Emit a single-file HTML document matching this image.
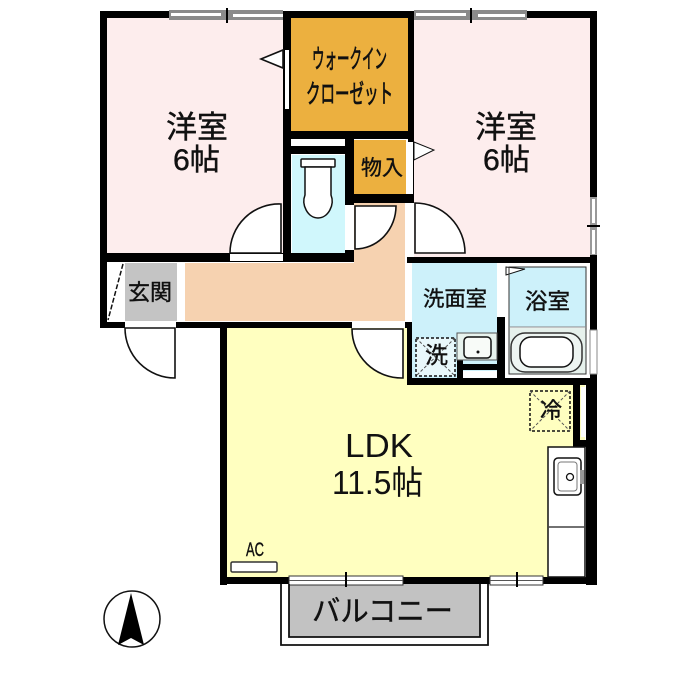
<!DOCTYPE html>
<html><head><meta charset="utf-8"><style>
html,body{margin:0;padding:0;background:#fff}
svg{display:block}
text{font-family:"Liberation Sans","Noto Sans CJK JP",sans-serif;fill:#111}
.b{stroke:#111;stroke-width:.4}
</style></head><body>
<svg width="700" height="700" viewBox="0 0 700 700" xmlns="http://www.w3.org/2000/svg">
<rect width="700" height="700" fill="#fff"/>
<!-- floors -->
<rect x="107" y="18" width="176" height="235" fill="#fdeded"/>
<rect x="414" y="18" width="176" height="239" fill="#fdeded"/>
<rect x="291" y="18" width="117" height="113" fill="#ecb03f"/>
<rect x="354" y="140" width="52" height="54" fill="#ecb03f"/>
<rect x="292" y="155" width="53" height="98" fill="#d0f7fc"/>
<rect x="185" y="263" width="220" height="58" fill="#f6d2b0"/>
<rect x="354" y="203" width="51" height="60" fill="#f6d2b0"/>
<rect x="125" y="263" width="52" height="58" fill="#c4c4c4"/>
<path d="M227 328H407V385H585V577H227Z" fill="#ffffc0"/>
<rect x="412" y="263" width="85" height="115" fill="#cdf1fa"/>
<rect x="505" y="263" width="85" height="115" fill="#fff"/>
<rect x="509" y="267" width="77" height="60" fill="#cdf1fa"/>
<rect x="509" y="328" width="77" height="46" fill="#e6f1ec"/>
<rect x="289" y="584" width="191" height="53" fill="#c2c2c2"/>
<!-- walls -->
<g fill="#000">
<rect x="100" y="11" width="497" height="7"/>
<rect x="100" y="11" width="7" height="317"/>
<rect x="590" y="11" width="7" height="574"/>
<rect x="283" y="11" width="8" height="251"/>
<rect x="408" y="11" width="6" height="192"/>
<rect x="291" y="131" width="123" height="8"/>
<rect x="291" y="146" width="63" height="8"/>
<rect x="345" y="131" width="9" height="131"/>
<rect x="100" y="253" width="191" height="9"/>
<rect x="283" y="253" width="71" height="9"/>
<rect x="345" y="194" width="69" height="9"/>
<rect x="407" y="257" width="190" height="6"/>
<rect x="100" y="322" width="310" height="6"/>
<rect x="220" y="322" width="7" height="263"/>
<rect x="407" y="322" width="5" height="63"/>
<rect x="407" y="378" width="190" height="7"/>
<rect x="497" y="317" width="8" height="68"/>
<rect x="220" y="577" width="377" height="7"/>
<rect x="573" y="385" width="7" height="60"/>
<rect x="573" y="440" width="24" height="7"/>
<rect x="586" y="385" width="11" height="200"/>
<rect x="457" y="364" width="40" height="6"/>
<rect x="457" y="360" width="6" height="18"/>
</g>
<!-- white strips / openings -->
<g fill="#fff">
<rect x="107" y="263" width="18" height="58"/>
<rect x="177" y="263" width="8" height="58"/>
<rect x="292" y="139" width="53" height="7"/>
<rect x="285" y="50" width="4" height="59"/>
<rect x="408" y="142" width="5" height="52"/>
<rect x="408" y="203" width="6" height="54"/>
<rect x="345" y="205" width="9" height="45"/>
<rect x="230" y="254" width="53" height="7"/>
<rect x="125" y="322" width="51" height="6"/>
<rect x="352" y="322" width="53" height="6"/>
<rect x="498" y="263" width="6" height="54"/>
<rect x="463" y="371" width="34" height="7"/>
<rect x="581" y="387" width="5" height="50"/>
</g>
<!-- top windows -->
<g>
<rect x="169" y="10" width="114" height="10" fill="#8a8a8a"/>
<rect x="171" y="13" width="50" height="3" fill="#fff"/>
<rect x="233" y="14" width="50" height="3" fill="#fff"/>
<rect x="226" y="8" width="2" height="15" fill="#000"/>
<rect x="414" y="10" width="113" height="10" fill="#8a8a8a"/>
<rect x="416" y="13" width="50" height="3" fill="#fff"/>
<rect x="478" y="14" width="47" height="3" fill="#fff"/>
<rect x="470" y="8" width="2" height="15" fill="#000"/>
<rect x="590" y="197" width="7" height="58" fill="#999"/>
<rect x="592" y="199" width="3" height="24" fill="#fff"/>
<rect x="592" y="230" width="3" height="24" fill="#fff"/>
<rect x="587" y="225" width="13" height="2" fill="#000"/>
<rect x="590" y="330" width="7" height="44" fill="#fff" stroke="#888"/>
<!-- bottom windows -->
<rect x="289" y="576" width="114" height="9" fill="#fff" stroke="#333"/>
<rect x="289" y="580" width="114" height="1" fill="#555"/>
<rect x="345" y="572" width="2" height="15" fill="#000"/>
<rect x="490" y="576" width="53" height="9" fill="#fff" stroke="#333"/>
<rect x="490" y="580" width="53" height="1" fill="#555"/>
<rect x="516" y="572" width="2" height="15" fill="#000"/>
</g>
<!-- doors -->
<g fill="#fff" stroke="#111" stroke-width="1.6">
<path d="M281 204V253H230A49 49 0 0 1 281 204Z"/>
<path d="M355 206H396A41 43 0 0 1 355 249Z"/>
<path d="M415 203A50 50 0 0 1 465 253H415Z"/>
<path d="M403 329V378A50 49 0 0 1 352 329Z"/>
<path d="M175 328V378A50 50 0 0 1 125 328Z"/>
<path d="M261 59L283 50V68Z"/>
<path d="M414 142L434 150L414 160Z" stroke-width="1"/>
<path d="M506 267L525 269L506 275Z" stroke-width="1"/>
</g>
<path d="M123 264L108 320" stroke="#111" stroke-width="1.5" stroke-dasharray="5 2" fill="none"/>
<path d="M509 267H586V374H509Z" fill="none" stroke="#333" stroke-width="1"/>
<path d="M509 327H586" stroke="#888" stroke-width="1"/>
<!-- toilet -->
<g fill="#fff" stroke="#111" stroke-width="1.5">
<rect x="301" y="159" width="34" height="8" rx="1"/>
<path d="M305 167H331V195C335 205 328 218 318 218C308 218 301 205 305 195Z"/>
</g>
<!-- basin -->
<rect x="457" y="333" width="40" height="27" fill="#e8f3ee" stroke="#555"/>
<rect x="464" y="337" width="27" height="21" rx="4" fill="#f8fbf8" stroke="#111" stroke-width="1.5"/>
<circle cx="478" cy="352" r="1.5" fill="#111"/>
<!-- washer pan -->
<rect x="416" y="338" width="39" height="38" fill="#e8f8fb" stroke="#111" stroke-width="1.5" stroke-dasharray="3 2"/>
<path d="M416 338L455 376M455 338L416 376" stroke="#555" stroke-width="1" stroke-dasharray="3 2"/>
<!-- tub -->
<rect x="511" y="333" width="71" height="39" rx="14" fill="#eef5f2" stroke="#333" stroke-width="1.5"/>
<rect x="520" y="337" width="53" height="30" rx="11" fill="#fff" stroke="#111" stroke-width="1.5"/>
<!-- fridge -->
<rect x="530" y="391" width="40" height="40" fill="none" stroke="#111" stroke-width="1.5" stroke-dasharray="3 2"/>
<path d="M530 391L570 431M570 391L530 431" stroke="#555" stroke-width="1" stroke-dasharray="3 2"/>
<!-- kitchen -->
<rect x="548" y="447" width="37" height="130" fill="#fff" stroke="#111" stroke-width="1.5"/>
<path d="M548 527H585" stroke="#444" stroke-width="1.5"/>
<rect x="554" y="458" width="27" height="37" rx="4" fill="#fff" stroke="#111" stroke-width="1.5"/>
<rect x="558" y="462" width="19" height="29" rx="3" fill="none" stroke="#777"/>
<circle cx="570" cy="477" r="3.5" fill="#fff" stroke="#111" stroke-width="1.3"/>
<rect x="580" y="470" width="4" height="14" fill="#999"/>
<!-- AC -->
<rect x="231" y="562" width="46" height="10" rx="1.5" fill="#fff" stroke="#333" stroke-width="1.5"/>
<!-- balcony -->
<path d="M281 584V645H488V584" fill="none" stroke="#111" stroke-width="1.8"/>
<path d="M289 584V637H480V584" fill="none" stroke="#111" stroke-width="1.8"/>
<!-- compass -->
<circle cx="132" cy="619" r="28" fill="#fff" stroke="#111" stroke-width="1.5"/>
<path d="M131 593L144 645L131 638L118 645Z" fill="#000"/>
<!-- labels -->
<text class="b" x="166" y="138" font-size="31" textLength="62" lengthAdjust="spacingAndGlyphs">洋室</text>
<text class="b" x="173" y="170" font-size="30" textLength="47" lengthAdjust="spacingAndGlyphs">6帖</text>
<text class="b" x="475" y="138" font-size="31" textLength="62" lengthAdjust="spacingAndGlyphs">洋室</text>
<text class="b" x="483" y="170" font-size="30" textLength="47" lengthAdjust="spacingAndGlyphs">6帖</text>
<text class="b" x="312" y="68" font-size="26" textLength="75" lengthAdjust="spacingAndGlyphs" style="stroke-width:.8">ウォークイン</text>
<text class="b" x="306" y="103" font-size="26" textLength="87" lengthAdjust="spacingAndGlyphs" style="stroke-width:.8">クローゼット</text>
<text class="b" x="361" y="175" font-size="21" textLength="42" lengthAdjust="spacingAndGlyphs">物入</text>
<text class="b" x="128" y="300" font-size="22" textLength="44" lengthAdjust="spacingAndGlyphs">玄関</text>
<text class="b" x="423" y="306" font-size="21" textLength="64" lengthAdjust="spacingAndGlyphs">洗面室</text>
<text class="b" x="525" y="309" font-size="22" textLength="45" lengthAdjust="spacingAndGlyphs">浴室</text>
<text class="b" x="425" y="363" font-size="23" textLength="23" lengthAdjust="spacingAndGlyphs">洗</text>
<text class="b" x="540" y="418" font-size="22" textLength="22" lengthAdjust="spacingAndGlyphs">冷</text>
<text x="345" y="457" font-size="33" textLength="68" lengthAdjust="spacingAndGlyphs">LDK</text>
<text x="332" y="494" font-size="33" textLength="91" lengthAdjust="spacingAndGlyphs">11.5帖</text>
<text class="b" x="312" y="621" font-size="29" textLength="141" lengthAdjust="spacingAndGlyphs">バルコニー</text>
<text x="246" y="556" font-size="19" textLength="18" lengthAdjust="spacingAndGlyphs" style="stroke:#111;stroke-width:.4">AC</text>
</svg>
</body></html>
